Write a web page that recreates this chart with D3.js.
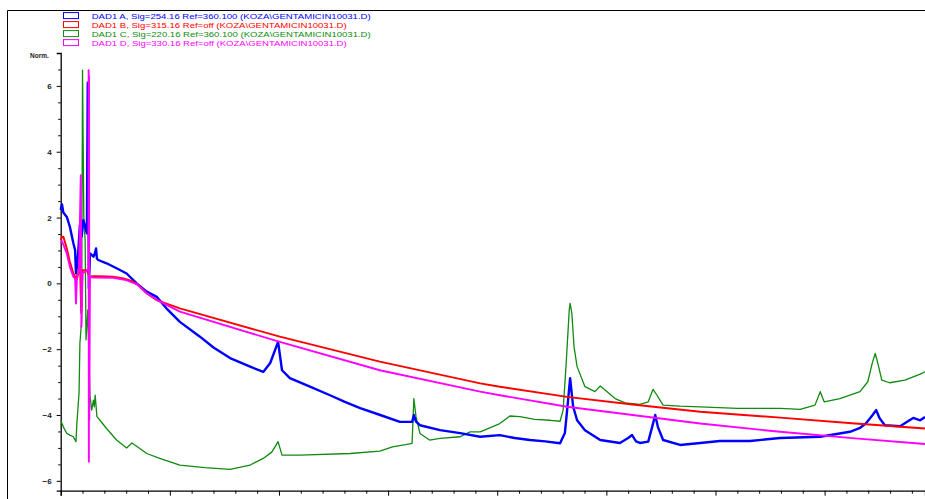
<!DOCTYPE html>
<html><head><meta charset="utf-8">
<script src="https://cdn.jsdelivr.net/npm/d3@7"></script>
<style>
html,body{margin:0;padding:0;background:#fff;overflow:hidden}
svg{display:block}
text{font-family:"Liberation Sans",Arial,sans-serif}
</style></head>
<body><svg id="c" width="925" height="499"></svg>
<script>
// ---- data (time in min, signal in Norm.) ----
const legendLabels = [
  "DAD1 A, Sig=254.16 Ref=360.100 (KOZA\\GENTAMICIN10031.D)",
  "DAD1 B, Sig=315.16 Ref=off (KOZA\\GENTAMICIN10031.D)",
  "DAD1 C, Sig=220.16 Ref=360.100 (KOZA\\GENTAMICIN10031.D)",
  "DAD1 D, Sig=330.16 Ref=off (KOZA\\GENTAMICIN10031.D)"
];
const seriesColors = ["#0000ff","#ff0000","#108a10","#ff00ff"];
const xTicks = [0,2.5,5,7.5,10,12.5,15,17.5];
const yTicks = [-6,-4,-2,0,2,4,6];

const sigA = [[0,2.23],[0.03,2.4],[0.06,2.15],[0.14,2.02],[0.21,1.72],[0.29,1.22],[0.33,1.01],[0.35,0.3],[0.38,0.6],[0.4,0.92],[0.44,1.77],[0.48,1.42],[0.52,1.92],[0.56,1.72],[0.6,1.52],[0.62,6.1],[0.63,5.9],[0.645,-0.15],[0.67,0.91],[0.75,0.81],[0.78,0.9],[0.81,1.06],[0.83,0.75],[0.86,0.71],[1.05,0.61],[1.28,0.46],[1.51,0.3],[1.74,0.0],[1.97,-0.25],[2.2,-0.41],[2.45,-0.8],[2.73,-1.17],[3.19,-1.62],[3.5,-1.95],[3.88,-2.27],[4.34,-2.53],[4.64,-2.69],[4.8,-2.42],[4.98,-1.78],[5.07,-2.64],[5.25,-2.88],[5.71,-3.14],[6.17,-3.4],[6.51,-3.6],[6.86,-3.79],[7.32,-4.0],[7.77,-4.21],[8.05,-4.21],[8.09,-4.0],[8.14,-4.2],[8.23,-4.31],[8.69,-4.46],[9.15,-4.55],[9.61,-4.66],[10.06,-4.61],[10.4,-4.7],[10.75,-4.76],[11.1,-4.8],[11.44,-4.86],[11.55,-4.55],[11.62,-3.6],[11.67,-2.88],[11.74,-3.75],[11.83,-4.16],[12.01,-4.46],[12.36,-4.76],[12.81,-4.85],[13.0,-4.7],[13.09,-4.61],[13.18,-4.8],[13.27,-4.85],[13.46,-4.81],[13.55,-4.36],[13.62,-4.0],[13.68,-4.36],[13.8,-4.76],[14.19,-4.91],[14.65,-4.85],[15.1,-4.79],[15.79,-4.79],[16.48,-4.7],[17.4,-4.66],[18.08,-4.51],[18.3,-4.4],[18.45,-4.25],[18.6,-4.0],[18.68,-3.85],[18.76,-4.1],[18.88,-4.31],[19.23,-4.34],[19.4,-4.2],[19.53,-4.09],[19.69,-4.16],[19.8,-4.06]];

const sigB = [[0,1.32],[0.03,1.42],[0.06,1.42],[0.14,1.06],[0.21,0.66],[0.29,0.3],[0.35,0.15],[0.4,0.3],[0.44,0.71],[0.47,-0.9],[0.5,0.4],[0.6,0.4],[0.67,0.15],[0.71,0.22],[0.86,0.22],[1.2,0.2],[1.44,0.15],[1.67,0.05],[1.82,-0.1],[1.97,-0.3],[2.2,-0.51],[2.73,-0.76],[5.02,-1.62],[7.31,-2.38],[9.61,-3.04],[10.06,-3.14],[11.6,-3.45],[13.1,-3.68],[14.65,-3.9],[16.48,-4.08],[18.2,-4.26],[19.8,-4.41]];

const sigC = [[0,-4.16],[0.06,-4.36],[0.14,-4.56],[0.21,-4.61],[0.29,-4.66],[0.35,-4.81],[0.37,-4.26],[0.42,-3.34],[0.44,-1.82],[0.48,-1.12],[0.5,6.48],[0.53,1.92],[0.56,1.32],[0.58,-1.72],[0.62,-0.81],[0.645,-2.13],[0.67,-3.4],[0.71,-3.85],[0.75,-3.55],[0.77,-3.75],[0.79,-3.4],[0.83,-4.05],[0.9,-4.16],[1.05,-4.41],[1.28,-4.76],[1.51,-5.0],[1.63,-4.85],[1.74,-4.95],[1.97,-5.17],[2.27,-5.32],[2.73,-5.52],[3.3,-5.6],[3.88,-5.65],[4.34,-5.52],[4.64,-5.32],[4.84,-5.12],[4.98,-4.81],[5.07,-5.22],[5.48,-5.22],[6.63,-5.17],[7.31,-5.1],[7.6,-4.97],[7.9,-4.9],[8.05,-4.86],[8.09,-3.5],[8.14,-4.05],[8.23,-4.56],[8.45,-4.76],[8.69,-4.71],[9.15,-4.66],[9.38,-4.51],[9.61,-4.51],[10.06,-4.26],[10.29,-4.03],[10.52,-4.05],[10.86,-4.13],[11.21,-4.16],[11.44,-4.19],[11.51,-3.85],[11.58,-2.43],[11.65,-0.81],[11.67,-0.61],[11.71,-0.91],[11.76,-1.93],[11.83,-2.53],[12.01,-3.14],[12.24,-3.29],[12.36,-3.12],[12.47,-3.24],[12.7,-3.5],[12.93,-3.63],[13.27,-3.68],[13.46,-3.6],[13.57,-3.22],[13.66,-3.4],[13.8,-3.7],[14.19,-3.73],[14.65,-3.75],[15.5,-3.8],[16.48,-3.8],[16.94,-3.83],[17.28,-3.7],[17.4,-3.29],[17.49,-3.6],[17.85,-3.5],[18.31,-3.29],[18.49,-2.99],[18.59,-2.43],[18.66,-2.13],[18.72,-2.43],[18.81,-2.94],[18.99,-3.02],[19.34,-2.94],[19.69,-2.76],[19.8,-2.69]];

const sigD = [[0,1.22],[0.03,1.28],[0.14,0.91],[0.21,0.5],[0.29,0.2],[0.33,0.15],[0.35,-0.61],[0.37,0.1],[0.42,0.4],[0.46,3.29],[0.475,-1.32],[0.5,0.3],[0.6,0.4],[0.635,0.4],[0.64,6.48],[0.645,-5.42],[0.65,6.3],[0.655,-4.15],[0.67,0.2],[0.75,0.18],[1.2,0.17],[1.5,0.1],[1.74,-0.02],[1.97,-0.3],[2.2,-0.5],[2.73,-0.86],[5.02,-1.78],[7.31,-2.64],[9.61,-3.29],[10.06,-3.4],[11.6,-3.75],[13.1,-4.0],[14.65,-4.26],[16.48,-4.51],[18.2,-4.71],[19.8,-4.88]];

// ---- drawing ----
const svg = d3.select("#c");
const x = d3.scaleLinear().domain([0,19.8]).range([60.7,925]);
const y = d3.scaleLinear().domain([-6.3,7]).range([490.7,53]);

// frame
svg.append("path").attr("d","M7.5,499V10.5H925").attr("fill","none").attr("stroke","#000").attr("stroke-width",1);

// legend
const leg = svg.append("g");
const widths = [279,255,279,255];
legendLabels.forEach((t,i)=>{
  const cy = 15.6 + i*9;
  leg.append("rect").attr("x",63.5).attr("y",cy-3).attr("width",15).attr("height",6)
    .attr("fill","none").attr("stroke",seriesColors[i]).attr("stroke-width",1);
  leg.append("text").attr("x",91.7).attr("y",cy+3).attr("font-size",8).attr("fill",seriesColors[i])
    .attr("textLength",widths[i]).attr("lengthAdjust","spacingAndGlyphs").text(t);
});

// axes
const yAxis = d3.axisLeft(y).tickValues(yTicks).tickSize(4).tickPadding(5).tickFormat(d3.format("d"));
const yMinor = d3.axisLeft(y).tickValues(d3.range(-6,7.01,0.5).filter(v=>v%2!==0)).tickSize(2.5).tickFormat("");
const gy = svg.append("g").attr("transform","translate(60.7,0)").call(yAxis);
svg.append("g").attr("transform","translate(60.7,0)").call(yMinor).select(".domain").remove();
gy.selectAll("text").attr("font-size",8).attr("font-weight","bold").attr("fill","#222");

const xAxis = d3.axisBottom(x).tickValues(xTicks).tickSize(5).tickPadding(3).tickFormat(d=>String(d));
const xMinor = d3.axisBottom(x).tickValues(d3.range(0.5,19.8,0.5).filter(v=>v%2.5!==0)).tickSize(3).tickFormat("");
const gx = svg.append("g").attr("transform","translate(0,490.7)").call(xAxis);
svg.append("g").attr("transform","translate(0,490.7)").call(xMinor).select(".domain").remove();
gx.selectAll("text").attr("font-size",8).attr("font-weight","bold").attr("fill","#222");
svg.selectAll(".domain").attr("stroke","#000").attr("stroke-width",1.3);
svg.selectAll(".tick line").attr("stroke","#000");

svg.append("text").attr("x",30).attr("y",58).attr("font-size",6.5).attr("font-weight","bold").attr("fill","#222").text("Norm.");

// series (drawing order: C, A, B, D)
const line = d3.line().x(d=>x(d[0])).y(d=>y(d[1]));
const order = [[sigC,2,1.3],[sigA,0,2.4],[sigB,1,1.9],[sigD,3,1.9]];
order.forEach(([data,ci,w])=>{
  svg.append("path").datum(data).attr("d",line).attr("fill","none")
    .attr("stroke",seriesColors[ci]).attr("stroke-width",w).attr("stroke-linejoin","round");
});
</script></body></html>
